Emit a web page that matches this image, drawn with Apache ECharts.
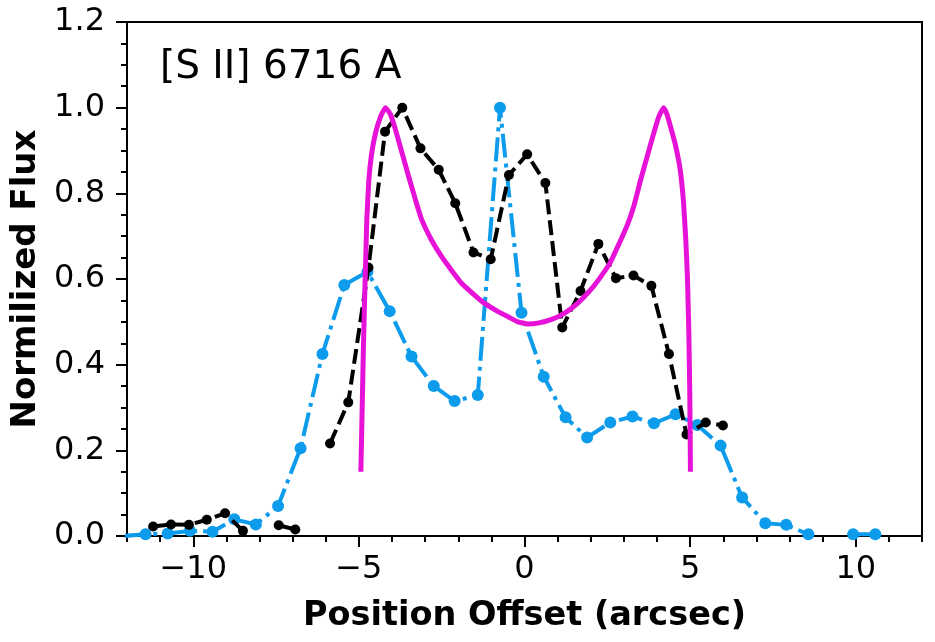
<!DOCTYPE html>
<html>
<head>
<meta charset="utf-8">
<script src="https://cdn.jsdelivr.net/npm/echarts@6/dist/echarts.min.js"></script>
<style>
html,body{margin:0;padding:0;background:#fff;}
#chart{width:935px;height:642px;}
</style>
</head>
<body>
<div id="chart"></div>
<script>
// Black (dashed) series
const blackX = [-11.21,-10.67,-10.13,-9.59,-9.04,-8.50,-7.96,-7.42,-6.92,-6.38,-5.87,-5.32,-4.71,-4.21,-3.69,-3.14,-2.59,-2.09,-1.54,-1.02,-0.47,0.08,0.63,1.14,1.69,2.23,2.76,3.29,3.83,4.36,4.89,5.47,5.99];
const blackY = [0.022,0.027,0.026,0.038,0.053,0.012,null,0.025,0.015,null,0.216,0.312,0.627,0.944,1.0,0.905,0.855,0.777,0.662,0.646,0.843,0.891,0.824,0.487,0.572,0.682,0.602,0.608,0.584,0.425,0.237,0.265,0.258];
// Blue (dash-dot) series
const blueX = [-12.11,-11.44,-10.77,-10.10,-9.42,-8.76,-8.11,-7.44,-6.76,-6.10,-5.44,-4.74,-4.07,-3.41,-2.74,-2.11,-1.41,-0.74,-0.09,0.58,1.24,1.89,2.59,3.26,3.91,4.56,5.22,5.92,6.57,7.27,7.90,8.57,9.25,9.92,10.59];
const blueY = [0.0,0.004,0.006,0.012,0.010,0.039,0.027,0.070,0.205,0.425,0.586,0.617,0.525,0.419,0.350,0.315,0.329,1.0,0.521,0.372,0.277,0.230,0.265,0.279,0.263,0.284,0.259,0.211,0.090,0.030,0.026,0.004,null,0.004,0.004];
// Magenta model curve
const modelX = [-4.94,-4.90,-4.86,-4.81,-4.76,-4.70,-4.62,-4.50,-4.35,-4.20,-4.05,-3.90,-3.70,-3.50,-3.30,-3.10,-2.80,-2.50,-2.20,-1.90,-1.50,-1.20,-0.80,-0.50,-0.20,0.10,0.40,0.80,1.20,1.60,2.00,2.30,2.60,2.90,3.10,3.30,3.50,3.70,3.90,4.05,4.20,4.30,4.40,4.55,4.70,4.80,4.87,4.92,4.96,4.99,5.01];
const modelY = [0.150,0.300,0.450,0.600,0.740,0.830,0.890,0.940,0.978,1.000,0.985,0.950,0.895,0.840,0.787,0.738,0.690,0.652,0.620,0.590,0.562,0.543,0.524,0.512,0.500,0.495,0.497,0.505,0.520,0.543,0.575,0.605,0.640,0.690,0.725,0.770,0.830,0.885,0.940,0.978,1.000,0.985,0.958,0.915,0.855,0.780,0.690,0.600,0.480,0.330,0.150];
// Axis ticks
const xMajorTicks = [-10,-5,0,5,10];
const yTicks = [0.0,0.2,0.4,0.6,0.8,1.0,1.2];
const labelText = '[S II] 6716 A';

const pair = (xs, ys) => xs.map((x, i) => [x, ys[i] === null ? '-' : ys[i]]);
const FONT = 'DejaVu Sans';

const chart = echarts.init(document.getElementById('chart'), null, {renderer: 'canvas'});
chart.setOption({
  animation: false,
  backgroundColor: '#fff',
  textStyle: {fontFamily: FONT},
  grid: {left: 127, right: 13, top: 22, bottom: 106, show: true, borderColor: '#000', borderWidth: 2, backgroundColor: 'transparent'},
  title: {
    text: labelText, left: 155, top: 43,
    textStyle: {fontFamily: FONT, fontSize: 39, fontWeight: 'normal', color: '#000'}
  },
  xAxis: [{
    type: 'value', min: -12, max: 12, interval: 1,
    name: 'Position Offset (arcsec)', nameLocation: 'middle', nameGap: 63,
    nameTextStyle: {fontFamily: FONT, fontSize: 33.5, fontWeight: 'bold', color: '#000'},
    axisLine: {show: true, onZero: false, lineStyle: {color: '#000', width: 2}},
    axisTick: {show: true, customValues: xMajorTicks, length: 11, lineStyle: {color: '#000', width: 2}},
    axisLabel: {customValues: xMajorTicks, margin: 18, fontFamily: FONT, fontSize: 32, color: '#000',
      formatter: v => String(v).replace('-', '\u2212')},
    splitLine: {show: false}
  }, {
    type: 'value', min: -12, max: 12, interval: 1, position: 'bottom',
    axisLine: {show: false, onZero: false},
    axisTick: {show: true, length: 6, lineStyle: {color: '#000', width: 2}},
    axisLabel: {show: false},
    splitLine: {show: false}
  }],
  yAxis: {
    type: 'value', min: 0, max: 1.2, interval: 0.2,
    name: 'Normilized Flux', nameLocation: 'middle', nameGap: 84,
    nameTextStyle: {fontFamily: FONT, fontSize: 34, fontWeight: 'bold', color: '#000'},
    axisLine: {show: true, onZero: false, lineStyle: {color: '#000', width: 2}},
    axisTick: {show: true, length: 11, lineStyle: {color: '#000', width: 2}},
    minorTick: {show: true, splitNumber: 4, length: 6, lineStyle: {color: '#000', width: 2}},
    axisLabel: {margin: 22, fontFamily: FONT, fontSize: 32, color: '#000',
      formatter: v => {
        const t = yTicks.find(k => Math.abs(k - v) < 1e-6);
        return (t === undefined ? v : t).toFixed(1);
      }},
    splitLine: {show: false}
  },
  series: [{
    name: 'blue', type: 'line', xAxisIndex: 0, data: pair(blueX, blueY),
    symbol: 'circle', symbolSize: 12, showSymbol: true, connectNulls: false,
    itemStyle: {color: '#0d9bec'},
    lineStyle: {color: '#0d9bec', width: 4, type: [24, 6, 4, 6]},
    z: 2
  }, {
    name: 'black', type: 'line', xAxisIndex: 0, data: pair(blackX, blackY),
    symbol: 'circle', symbolSize: 10, showSymbol: true, connectNulls: false,
    itemStyle: {color: '#000'},
    lineStyle: {color: '#000', width: 4, type: [15, 6]},
    z: 3
  }, {
    name: 'model', type: 'line', xAxisIndex: 0, data: pair(modelX, modelY),
    symbol: 'none', smooth: 0.12,
    lineStyle: {color: '#e612d8', width: 5},
    z: 4
  }]
});
</script>
</body>
</html>
